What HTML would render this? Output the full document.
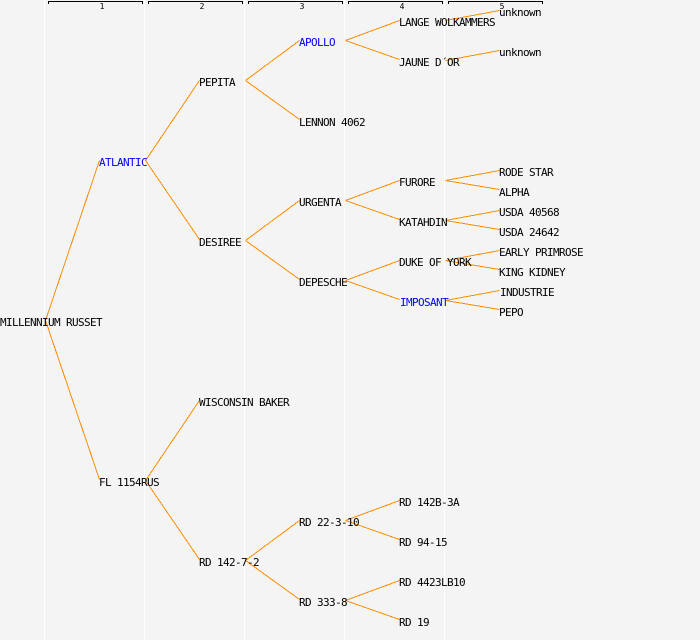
<!DOCTYPE html>
<html><head><meta charset="utf-8"><style>
html,body{margin:0;padding:0;background:#f4f4f4}
svg{display:block}
text{font-family:"DejaVu Sans Mono","Liberation Mono",monospace;font-size:11px;letter-spacing:-0.62px;fill:#000}
.b{fill:#0000ff}
.n{font-size:8px;letter-spacing:0}
</style></head><body>
<svg width="700" height="640" viewBox="0 0 700 640" xmlns="http://www.w3.org/2000/svg">
<rect width="700" height="640" fill="#f4f4f4"/>
<g fill="#ffffff" shape-rendering="crispEdges">
<rect x="44" y="0" width="1" height="640"/><rect x="144" y="0" width="1" height="640"/><rect x="244" y="0" width="1" height="640"/><rect x="344" y="0" width="1" height="640"/><rect x="444" y="0" width="1" height="640"/>
</g>
<g fill="none" stroke="#000" shape-rendering="crispEdges">
<path d="M48.5 4V1.5H142.5V4"/><path d="M148.5 4V1.5H242.5V4"/><path d="M248.5 4V1.5H342.5V4"/><path d="M348.5 4V1.5H442.5V4"/><path d="M448.5 4V1.5H542.5V4"/>
</g>
<g stroke="#ff8c00" stroke-width="1" fill="none" shape-rendering="crispEdges">
<path d="M45.5 320.5L99.5 160.5M45.5 320.5L99.5 479.5"/>
<path d="M145.5 160.5L199.5 80.5M145.5 160.5L199.5 239.5M145.5 480.5L199.5 400.5M145.5 480.5L199.5 559.5"/>
<path d="M245.5 80.5L299.5 40.5M245.5 80.5L299.5 119.5M245.5 240.5L299.5 200.5M245.5 240.5L299.5 279.5M245.5 560.5L299.5 520.5M245.5 560.5L299.5 599.5"/>
<path d="M345.5 40.5L399.5 20.5M345.5 40.5L399.5 59.5M345.5 200.5L399.5 180.5M345.5 200.5L399.5 219.5M345.5 280.5L399.5 260.5M345.5 280.5L399.5 299.5M345.5 520.5L399.5 500.5M345.5 520.5L399.5 539.5M345.5 600.5L399.5 580.5M345.5 600.5L399.5 619.5"/>
<path d="M445.5 20.5L499.5 10.5M445.5 60.5L499.5 50.5M445.5 180.5L499.5 170.5M445.5 180.5L499.5 189.5M445.5 220.5L499.5 210.5M445.5 220.5L499.5 229.5M445.5 260.5L499.5 250.5M445.5 260.5L499.5 269.5M445.5 300.5L499.5 290.5M445.5 300.5L499.5 309.5"/>
</g>
<g text-anchor="middle">
<text class="n" x="102" y="9">1</text><text class="n" x="202" y="9">2</text><text class="n" x="302" y="9">3</text><text class="n" x="402" y="9">4</text><text class="n" x="502" y="9">5</text>
</g>
<text x="0" y="326">MILLENNIUM RUSSET</text>
<text class="b" x="99" y="166">ATLANTIC</text>
<text x="99" y="486">FL 1154RUS</text>
<text x="199" y="86">PEPITA</text>
<text x="199" y="246">DESIREE</text>
<text x="199" y="406">WISCONSIN BAKER</text>
<text x="199" y="566">RD 142-7-2</text>
<text class="b" x="299" y="46">APOLLO</text>
<text x="299" y="126">LENNON 4062</text>
<text x="299" y="206">URGENTA</text>
<text x="299" y="286">DEPESCHE</text>
<text x="299" y="526">RD 22-3-10</text>
<text x="299" y="606">RD 333-8</text>
<text x="399" y="26">LANGE WOLKAMMERS</text>
<text x="399" y="66">JAUNE D´OR</text>
<text x="399" y="186">FURORE</text>
<text x="399" y="226">KATAHDIN</text>
<text x="399" y="266">DUKE OF YORK</text>
<text class="b" x="400" y="306">IMPOSANT</text>
<text x="399" y="506">RD 142B-3A</text>
<text x="399" y="546">RD 94-15</text>
<text x="399" y="586">RD 4423LB10</text>
<text x="399" y="626">RD 19</text>
<text x="499" y="16">unknown</text>
<text x="499" y="56">unknown</text>
<text x="499" y="176">RODE STAR</text>
<text x="499" y="196">ALPHA</text>
<text x="499" y="216">USDA 40568</text>
<text x="499" y="236">USDA 24642</text>
<text x="499" y="256">EARLY PRIMROSE</text>
<text x="499" y="276">KING KIDNEY</text>
<text x="500" y="296">INDUSTRIE</text>
<text x="499" y="316">PEPO</text>
</svg>
</body></html>
